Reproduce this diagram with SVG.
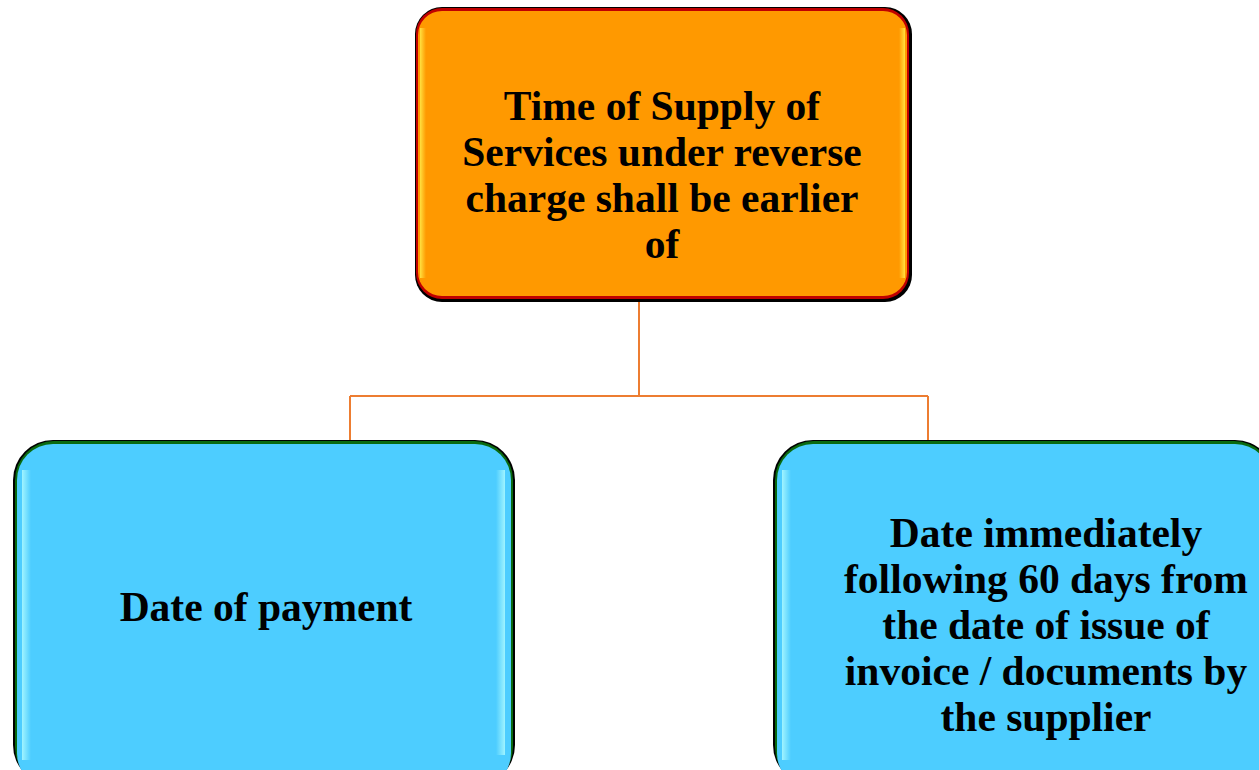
<svg xmlns="http://www.w3.org/2000/svg" width="1259" height="770" viewBox="0 0 1259 770">
<style>
.t{font-family:"Liberation Serif","Times New Roman",serif;font-weight:bold;font-size:41.5px;fill:#000;text-anchor:middle}
.conn{fill:none;stroke:#ED7D31;stroke-width:2}
</style>
<defs>
<linearGradient id="hlY" x1="0" y1="0" x2="1" y2="0">
<stop offset="0" stop-color="#FFE040"/><stop offset="1" stop-color="#FF9900"/>
</linearGradient>
<linearGradient id="hlYr" x1="1" y1="0" x2="0" y2="0">
<stop offset="0" stop-color="#FFE040"/><stop offset="1" stop-color="#FF9900"/>
</linearGradient>
<linearGradient id="hlB" x1="0" y1="0" x2="1" y2="0">
<stop offset="0" stop-color="#A0F4FF"/><stop offset="1" stop-color="#4DCDFF"/>
</linearGradient>
<linearGradient id="hlBr" x1="1" y1="0" x2="0" y2="0">
<stop offset="0" stop-color="#A0F4FF"/><stop offset="1" stop-color="#4DCDFF"/>
</linearGradient>
</defs>
<rect width="1259" height="770" fill="#fff"/>
<g id="connectors">
<path class="conn" d="M639,300 V396 M350,396 H928 M350,396 V441 M928,396 V441"/>
</g>
<g id="top">
<rect x="415" y="7" width="497" height="295" rx="27" fill="#000"/>
<rect x="416" y="8" width="493" height="291" rx="26" fill="#C00000"/>
<rect x="418" y="11" width="489" height="285" rx="24" fill="#FF9900"/>
<rect x="420" y="28" width="6" height="250" fill="url(#hlY)"/>
<rect x="899" y="28" width="6" height="250" fill="url(#hlYr)"/>
<text class="t" x="662" y="120">Time of Supply of</text>
<text class="t" x="662" y="166">Services under reverse</text>
<text class="t" x="662" y="212">charge shall be earlier</text>
<text class="t" x="662" y="258">of</text>
</g>
<g id="left">
<rect x="13" y="440" width="502" height="345" rx="40" fill="#000"/>
<rect x="15" y="441" width="498" height="345" rx="39" fill="#0A6A10"/>
<rect x="17" y="444" width="494" height="345" rx="36" fill="#4DCDFF"/>
<rect x="22" y="470" width="9" height="290" fill="url(#hlB)"/>
<rect x="496" y="470" width="9" height="285" fill="url(#hlBr)"/>
<text class="t" x="266" y="621">Date of payment</text>
</g>
<g id="right">
<rect x="773" y="440" width="502" height="345" rx="40" fill="#000"/>
<rect x="775" y="441" width="498" height="345" rx="39" fill="#0A6A10"/>
<rect x="777" y="444" width="494" height="345" rx="36" fill="#4DCDFF"/>
<rect x="782" y="470" width="9" height="290" fill="url(#hlB)"/>
<text class="t" x="1046" y="547">Date immediately</text>
<text class="t" x="1046" y="593">following 60 days from</text>
<text class="t" x="1046" y="639">the date of issue of</text>
<text class="t" x="1046" y="685">invoice / documents by</text>
<text class="t" x="1046" y="731">the supplier</text>
</g>
</svg>
